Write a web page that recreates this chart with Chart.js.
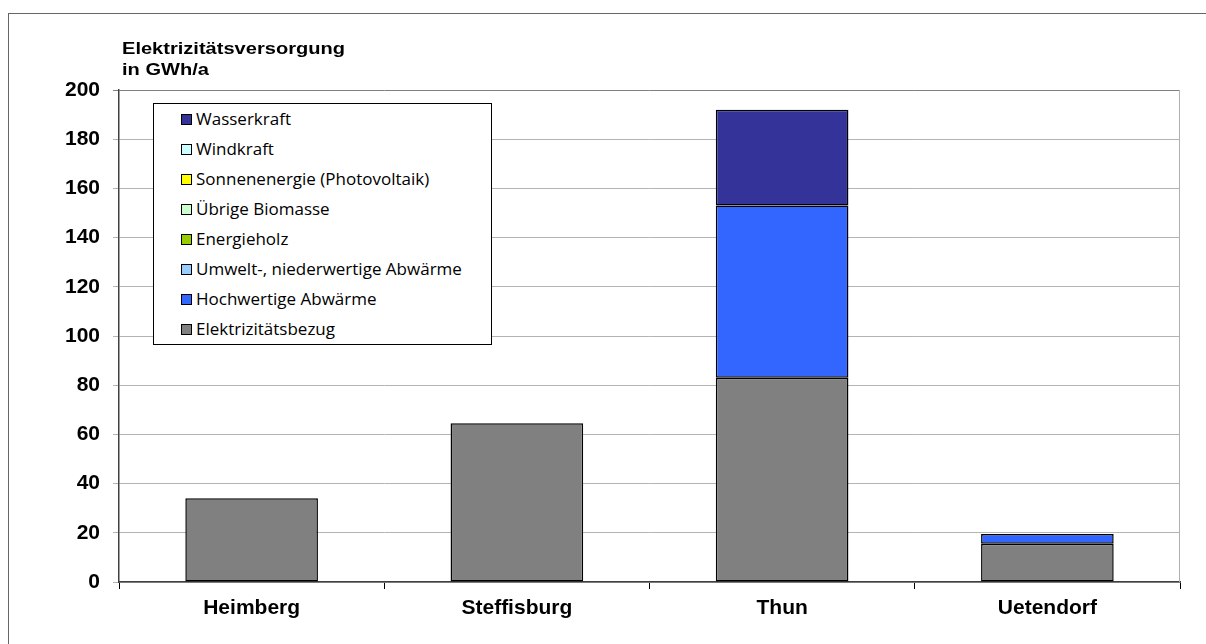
<!DOCTYPE html>
<html>
<head>
<meta charset="utf-8">
<script src="https://cdn.jsdelivr.net/npm/chart.js@4"></script>
<style>
  html, body { margin: 0; padding: 0; background: #fff; }
  #wrap { position: relative; width: 1206px; height: 644px; overflow: hidden; }
  #frame { position: absolute; left: 8px; top: 13px; width: 1400px; height: 800px;
           border-left: 1px solid #666; border-top: 1px solid #666; }
  #title { position: absolute; left: 122px; top: 38px; font: bold 17px "Liberation Sans", Arial, sans-serif;
           line-height: 21px; color: #000; transform: scaleX(1.18); transform-origin: left top; white-space: nowrap; }
  #legend { position: absolute; left: 153px; top: 103px; width: 337px; height: 240px;
            border: 1px solid #000; background: #fff; font: 17px "Open Sans", sans-serif; color: #000; }
  .item { position: relative; height: 30px; line-height: 30px; padding-left: 42px; white-space: nowrap; }
  .sw { position: absolute; left: 27px; top: 10px; width: 9px; height: 9px; border: 1px solid #000; }
  canvas { position: absolute; left: 0; top: 0; }
</style>
</head>
<body>
<div id="wrap">
  <div id="frame"></div>
  <canvas id="c" width="1206" height="644"></canvas>
  <div id="title">Elektrizitätsversorgung<br>in GWh/a</div>
  <div id="legend"></div>
</div>
<script>
const categories = ['Heimberg', 'Steffisburg', 'Thun', 'Uetendorf'];
const elektrizitaetsbezug = [34, 64.5, 83, 15.5];
const hochwertigeAbwaerme = [0, 0, 70, 4];
const umweltAbwaerme = [0, 0, 0, 0];
const energieholz = [0, 0, 0, 0];
const uebrigeBiomasse = [0, 0, 0, 0];
const sonnenenergie = [0, 0, 0, 0];
const windkraft = [0, 0, 0, 0];
const wasserkraft = [0, 0, 39, 0];
const yTicks = [0, 20, 40, 60, 80, 100, 120, 140, 160, 180, 200];

const seriesNames = ['Elektrizitätsbezug', 'Hochwertige Abwärme', 'Umwelt-, niederwertige Abwärme',
  'Energieholz', 'Übrige Biomasse', 'Sonnenenergie (Photovoltaik)', 'Windkraft', 'Wasserkraft'];
const seriesData = [elektrizitaetsbezug, hochwertigeAbwaerme, umweltAbwaerme, energieholz,
  uebrigeBiomasse, sonnenenergie, windkraft, wasserkraft];
const seriesColors = ['#808080', '#3366FF', '#99CCFF', '#99CC00', '#CCFFCC', '#FFFF00', '#CCFFFF', '#333399'];

const datasets = seriesNames.map((n, i) => ({
  label: n,
  data: seriesData[i],
  backgroundColor: seriesColors[i],
  borderColor: '#000',
  borderWidth: ctx => (ctx.raw ? 1.5 : 0),
  borderSkipped: false,
  barPercentage: 0.5,
  categoryPercentage: 1.0
}));

const edgePlugin = {
  id: 'edge',
  afterDatasetsDraw(chart) {
    const a = chart.chartArea, c = chart.ctx;
    c.save();
    c.strokeStyle = '#b0b0b0';
    c.lineWidth = 1;
    c.beginPath();
    c.moveTo(Math.round(a.right) - 0.5, a.top);
    c.lineTo(Math.round(a.right) - 0.5, a.bottom);
    c.stroke();
    c.restore();
  }
};

new Chart(document.getElementById('c'), {
  type: 'bar',
  data: { labels: categories, datasets },
  plugins: [edgePlugin],
  options: {
    responsive: false,
    animation: false,
    layout: { padding: { left: 0, right: 26, top: 90, bottom: 0 } },
    plugins: { legend: { display: false }, tooltip: { enabled: false } },
    scales: {
      x: {
        stacked: true,
        afterFit: s => { s.height = 62; },
        grid: { offset: true, drawOnChartArea: false, drawTicks: true, tickLength: 7, color: '#000', lineWidth: 1 },
        border: { color: '#404040', width: 1.5 },
        ticks: { color: '#000', padding: 7, font: { family: 'Liberation Sans', weight: 'bold', size: 21 } }
      },
      y: {
        stacked: true,
        min: 0, max: 200,
        afterFit: s => { s.width = 119; },
        afterBuildTicks: s => { s.ticks = yTicks.map(v => ({ value: v })); },
        grid: { color: ctx => (ctx.tick && ctx.tick.value === 200 ? '#808080' : '#b4b4b4'), tickLength: 6, lineWidth: 1 },
        border: { color: '#404040', width: 1.5 },
        ticks: { color: '#000', padding: 13, font: { family: 'Liberation Sans', weight: 'bold', size: 21 } }
      }
    }
  }
});

const leg = document.getElementById('legend');
for (let i = seriesNames.length - 1; i >= 0; i--) {
  const d = document.createElement('div');
  d.className = 'item';
  const sw = document.createElement('span');
  sw.className = 'sw';
  sw.style.background = seriesColors[i];
  d.appendChild(sw);
  d.appendChild(document.createTextNode(seriesNames[i]));
  leg.appendChild(d);
}
</script>
</body>
</html>
